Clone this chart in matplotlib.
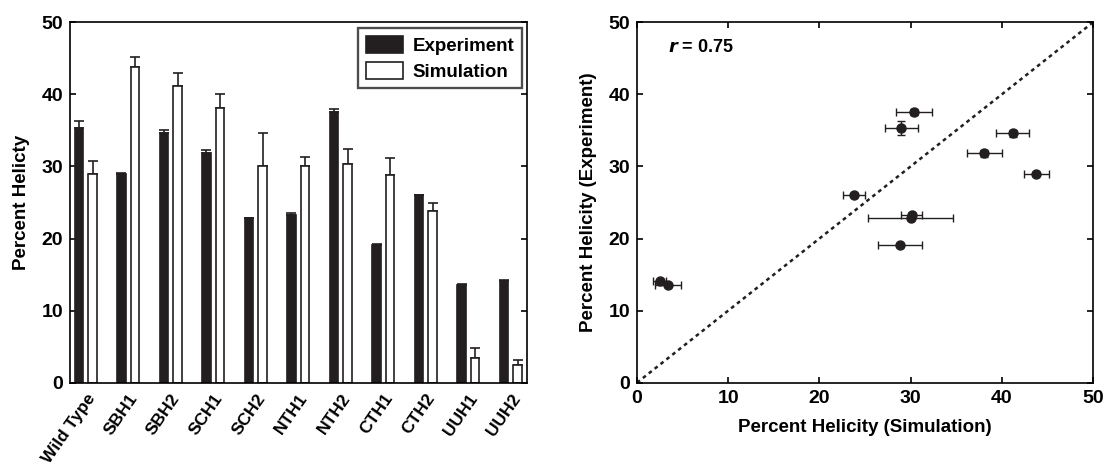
import matplotlib
matplotlib.use("Agg")
import matplotlib.pyplot as plt
import numpy as np

plt.rcParams['font.family'] = ['Liberation Sans', 'DejaVu Sans']
plt.rcParams['font.weight'] = 'bold'

categories = ['Wild Type', 'SBH1', 'SBH2', 'SCH1', 'SCH2', 'NTH1', 'NTH2',
              'CTH1', 'CTH2', 'UUH1', 'UUH2']
experiment = [35.3, 29.0, 34.6, 31.8, 22.8, 23.3, 37.6, 19.1, 26.0, 13.6, 14.1]
experiment_err = [1.0, 0.15, 0.5, 0.5, 0.1, 0.3, 0.4, 0.1, 0.1, 0.1, 0.1]
simulation = [29.0, 43.8, 41.2, 38.1, 30.0, 30.1, 30.4, 28.8, 23.8, 3.4, 2.5]
simulation_err = [1.8, 1.4, 1.8, 1.9, 4.7, 1.2, 2.0, 2.4, 1.2, 1.4, 0.7]
ticks = [0, 10, 20, 30, 40, 50]
r_text = '0.75'

W, H = 1106, 467
fig = plt.figure(figsize=(W / 100, H / 100), dpi=100)
ax1 = fig.add_axes([70 / W, 84.3 / H, 457 / W, 360.4 / H])
ax2 = fig.add_axes([637 / W, 84.3 / H, 456 / W, 360.4 / H])

dark = '#231f20'
lw = 1.2
x = np.arange(len(categories))
bw = 0.2
off = 0.16
ax1.bar(x - off, experiment, bw, color=dark, edgecolor=dark,
        linewidth=lw, label='Experiment', zorder=2)
ax1.bar(x + off, simulation, bw, color='white', edgecolor=dark,
        linewidth=lw, label='Simulation', zorder=2)
ax1.errorbar(x - off, experiment, yerr=[np.zeros(len(x)), experiment_err],
             fmt='none', ecolor=dark, elinewidth=lw, capsize=3.5,
             capthick=lw, zorder=1)
ax1.errorbar(x + off, simulation, yerr=[np.zeros(len(x)), simulation_err],
             fmt='none', ecolor=dark, elinewidth=lw, capsize=3.5,
             capthick=lw, zorder=1)
ax1.set_xlim(-0.37, 10.38)
ax1.set_ylim(0, 50)
ax1.set_yticks(ticks)
ax1.set_xticks(x)
ax1.set_xticklabels(categories, rotation=55, ha='right', rotation_mode='anchor',
                    fontsize=12.5, fontweight='bold')
ax1.tick_params(axis='x', length=0, pad=6)
ax1.tick_params(axis='y', direction='in', right=True, length=4, width=lw,
                labelsize=14, pad=5)
for lab in ax1.get_yticklabels():
    lab.set_fontweight('bold')
ax1.set_ylabel('Percent Helicty', fontsize=13.5, fontweight='bold', labelpad=8)
for s in ax1.spines.values():
    s.set_linewidth(lw)
leg = ax1.legend(loc='upper right', fontsize=13.5, frameon=True, fancybox=False,
                 edgecolor=dark, handlelength=2.0, handleheight=1.0,
                 borderpad=0.4, labelspacing=0.4, handletextpad=0.5,
                 borderaxespad=0,
                 bbox_to_anchor=(1 - 5 / 457, 1 - 6 / 360.4))
leg.get_frame().set_linewidth(lw * 1.4)
for t in leg.get_texts():
    t.set_fontweight('bold')

# scatter
ax2.plot([0, 50], [0, 50], linestyle=(0, (1.5, 1.5)), color=dark,
         linewidth=1.8, zorder=1)
ax2.errorbar(simulation, experiment, xerr=simulation_err, yerr=experiment_err,
             fmt='o', color=dark, markersize=6.5, ecolor=dark,
             elinewidth=1.0, capsize=3, capthick=1.0, zorder=3)
ax2.set_xlim(0, 50)
ax2.set_ylim(0, 50)
ax2.set_xticks(ticks)
ax2.set_yticks(ticks)
ax2.tick_params(direction='in', top=True, right=True, length=4, width=lw,
                labelsize=14, pad=5)
for lab in ax2.get_xticklabels() + ax2.get_yticklabels():
    lab.set_fontweight('bold')
ax2.set_xlabel('Percent Helicity (Simulation)', fontsize=13.5, fontweight='bold',
               labelpad=9)
ax2.set_ylabel('Percent Helicity (Experiment)', fontsize=13.5, fontweight='bold',
               labelpad=8)
for s in ax2.spines.values():
    s.set_linewidth(lw)
ax2.text(3.4, 46.5, r'$\mathbfit{r}$' + ' = ' + r_text, fontsize=13,
         fontweight='bold', va='center', ha='left')

fig.savefig('out.png', dpi=100)
